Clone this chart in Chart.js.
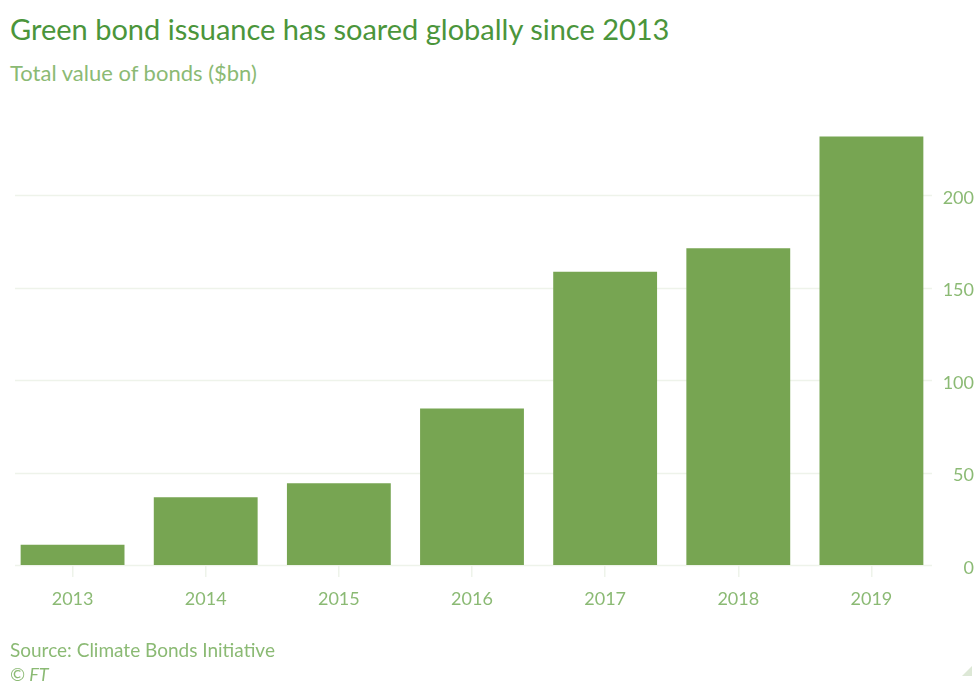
<!DOCTYPE html>
<html>
<head>
<meta charset="utf-8">
<script src="https://cdn.jsdelivr.net/npm/chart.js@4.4.1/dist/chart.umd.min.js"></script>
<style>
  html, body { margin: 0; padding: 0; background: #fff; }
  body { width: 974px; height: 682px; position: relative; overflow: hidden; font-family: Lato, "Open Sans", sans-serif; }
  .title { position: absolute; left: 10px; top: 11px; font-size: 29px; color: #4b953b; white-space: nowrap; }
  .subtitle { position: absolute; left: 10px; top: 59px; font-size: 22px; color: #8bba74; white-space: nowrap; }
  .source { position: absolute; left: 10px; top: 638px; font-size: 19px; color: #8bba74; white-space: nowrap; }
  .copy { position: absolute; left: 10px; top: 663px; font-size: 18px; font-style: italic; color: #8bba74; }
  .corner { position: absolute; right: 2px; bottom: 6px; width: 0; height: 0;
            border-left: 10px solid transparent; border-bottom: 10px solid #dde8d6; }
  #chartWrap { position: absolute; left: 0; top: 100px; width: 974px; height: 540px; }
</style>
</head>
<body>
<div class="title">Green bond issuance has soared globally since 2013</div>
<div class="subtitle">Total value of bonds ($bn)</div>
<div id="chartWrap"><canvas id="greenBondChart"></canvas></div>
<div class="source">Source: Climate Bonds Initiative</div>
<div class="copy">© FT</div>
<div class="corner"></div>
<script>
// Annual green bond issuance, $bn
var years = ['2013', '2014', '2015', '2016', '2017', '2018', '2019'];
var issuance = [11, 36.6, 44.2, 84.6, 158.5, 171.2, 231.6];
var valueTicks = [0, 50, 100, 150, 200];

var barColor = '#77a552';
var labelColor = '#8bba74';
var gridColor = '#eef3ea';

// faint horizontal rules, inset a little from the plot edges
var insetGrid = {
    id: 'insetGrid',
    beforeDatasetsDraw: function(chart) {
        var ctx = chart.ctx;
        var area = chart.chartArea;
        var y = chart.scales.y;
        ctx.save();
        ctx.strokeStyle = gridColor;
        ctx.lineWidth = 1.5;
        valueTicks.forEach(function(v) {
            var py = Math.round(y.getPixelForValue(v)) + 0.5;
            ctx.beginPath();
            ctx.moveTo(area.left + 9, py);
            ctx.lineTo(area.right - 6, py);
            ctx.stroke();
        });
        ctx.restore();
    }
};

var ctx = document.getElementById('greenBondChart');
new Chart(ctx, {
    type: 'bar',
    data: {
        labels: years,
        datasets: [{ data: issuance, backgroundColor: barColor, borderWidth: 0, categoryPercentage: 1, barPercentage: 0.78 }]
    },
    options: {
        responsive: true, maintainAspectRatio: false, animation: false,
        layout: { padding: { top: 21, left: 6, right: 0, bottom: 0 } },
        plugins: { legend: { display: false }, tooltip: { enabled: false } },
        scales: {
            x: {
                grid: { offset: false, drawOnChartArea: false, color: gridColor, tickLength: 12, lineWidth: 1.5 },
                border: { display: false },
                ticks: { color: labelColor, font: { family: 'Lato', size: 18 }, padding: 11 },
                afterFit: function(scale) { scale.height = 75; }
            },
            y: {
                position: 'right', min: 0, max: 240,
                grid: { display: false },
                border: { display: false },
                ticks: {
                    stepSize: 50, includeBounds: false, color: labelColor, crossAlign: 'far',
                    font: { family: 'Lato', size: 18 }, padding: 0, labelOffset: 3
                },
                afterFit: function(scale) { scale.width = 36; }
            }
        }
    },
    plugins: [insetGrid]
});
</script>
</body>
</html>
